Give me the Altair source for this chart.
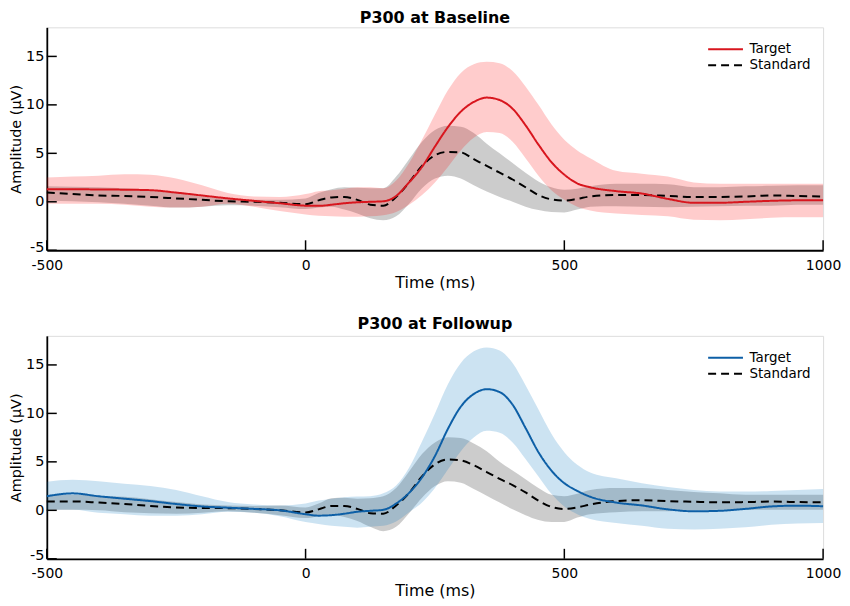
import altair as alt
import pandas as pd

# ---------------- data ----------------
t = [-500, -450, -400, -350, -300, -250, -200, -150, -100, -50, 0, 25, 50, 75, 100,
     125, 150, 175, 200, 225, 250, 275, 300, 325, 350, 375, 400, 425, 450, 475, 500,
     525, 550, 600, 650, 700, 750, 800, 850, 900, 950, 1000]

# Baseline
base_target_mean = [1.3, 1.3, 1.27, 1.25, 1.2, 0.95, 0.65, 0.35, 0.1, -0.15, -0.4, -0.42, -0.3, -0.15, -0.05,
                    0.0, 0.05, 0.6, 2.0, 3.6, 5.7, 7.7, 9.3, 10.3, 10.75, 10.5, 9.6, 7.9, 5.9, 4.1, 2.8,
                    1.9, 1.5, 1.1, 0.85, 0.3, -0.1, -0.1, 0.0, 0.1, 0.15, 0.15]
base_target_hi = [2.5, 2.6, 2.7, 2.85, 2.8, 2.4, 1.7, 0.9, 0.55, 0.5, 0.8, 1.1, 1.2, 1.35, 1.5,
                  1.5, 1.4, 2.2, 4.0, 6.4, 9.0, 11.5, 13.3, 14.2, 14.45, 14.3, 13.5, 11.9, 10.0, 8.0, 6.4,
                  5.3, 4.5, 3.2, 2.9, 2.6, 2.0, 1.85, 1.85, 1.85, 1.85, 1.85]
base_target_lo = [-0.2, -0.2, -0.2, -0.3, -0.5, -0.6, -0.5, -0.2, -0.5, -0.95, -1.3, -1.45, -1.5, -1.55, -1.55,
                  -1.5, -1.4, -1.05, -0.3, 0.7, 2.0, 3.6, 5.3, 6.6, 7.2, 7.1, 6.2, 4.5, 2.7, 1.2, 0.2,
                  -0.5, -0.9, -1.2, -1.35, -1.5, -1.85, -1.9, -1.8, -1.65, -1.6, -1.6]
base_std_mean = [0.95, 0.8, 0.65, 0.6, 0.5, 0.35, 0.2, 0.05, 0.0, -0.1, -0.25, 0.15, 0.45, 0.5, 0.2,
                 -0.3, -0.4, 0.5, 2.0, 3.7, 4.8, 5.15, 5.1, 4.4, 3.7, 3.0, 2.3, 1.5, 0.7, 0.25, 0.12,
                 0.3, 0.55, 0.7, 0.7, 0.6, 0.5, 0.5, 0.55, 0.65, 0.6, 0.55]
base_std_hi = [1.6, 1.55, 1.5, 1.4, 1.2, 0.9, 0.55, 0.3, 0.2, 0.2, 0.35, 0.9, 1.3, 1.5, 1.45,
               1.4, 1.4, 2.6, 4.4, 6.2, 7.4, 7.85, 7.75, 7.1, 6.0, 5.0, 4.0, 3.0, 2.1, 1.5, 1.25,
               1.35, 1.6, 1.85, 1.85, 1.8, 1.5, 1.5, 1.6, 1.65, 1.7, 1.7]
base_std_lo = [0.1, 0.05, -0.05, -0.2, -0.4, -0.6, -0.5, -0.35, -0.4, -0.55, -0.75, -0.6, -0.5, -0.8, -1.2,
               -1.7, -1.9, -1.5, -0.2, 1.4, 2.4, 2.7, 2.4, 1.7, 1.05, 0.5, 0.0, -0.5, -0.85, -1.05, -1.1,
               -0.8, -0.5, -0.45, -0.5, -0.55, -0.5, -0.45, -0.4, -0.4, -0.3, -0.3]

# Followup
fu_target_mean = [1.45, 1.75, 1.45, 1.2, 0.95, 0.65, 0.4, 0.27, 0.15, 0.0, -0.4, -0.55, -0.5, -0.35, -0.15,
                  -0.05, 0.05, 0.7, 1.8, 3.4, 5.6, 8.4, 10.7, 12.0, 12.5, 12.2, 10.9, 8.5, 6.0, 4.1, 2.8,
                  2.0, 1.4, 0.8, 0.5, 0.1, -0.1, -0.05, 0.15, 0.4, 0.48, 0.42]
fu_target_hi = [2.95, 3.15, 3.0, 2.75, 2.5, 2.1, 1.45, 0.85, 0.6, 0.5, 0.7, 1.0, 1.2, 1.35, 1.42,
                1.45, 1.75, 2.55, 4.4, 7.1, 10.0, 13.0, 15.2, 16.4, 16.8, 16.5, 15.2, 12.9, 10.4, 7.9, 6.0,
                4.7, 3.9, 3.3, 2.8, 2.4, 2.1, 1.95, 1.95, 2.0, 2.1, 2.2]
fu_target_lo = [0.05, 0.05, -0.25, -0.4, -0.55, -0.55, -0.4, -0.15, -0.25, -0.6, -1.2, -1.4, -1.6, -1.7, -1.8,
                -1.7, -1.6, -1.15, -0.2, 0.8, 2.3, 4.2, 6.1, 7.5, 8.2, 8.0, 7.0, 5.3, 3.5, 1.7, 0.4,
                -0.4, -0.9, -1.3, -1.6, -1.9, -1.97, -1.9, -1.75, -1.5, -1.35, -1.3]
fu_std_mean = [0.92, 0.92, 0.8, 0.65, 0.45, 0.3, 0.24, 0.22, 0.14, 0.0, -0.22, 0.1, 0.45, 0.45, 0.15,
               -0.3, -0.35, 0.5, 1.8, 3.5, 4.75, 5.25, 5.15, 4.65, 3.95, 3.25, 2.6, 1.85, 1.0, 0.35, 0.14,
               0.3, 0.6, 0.95, 1.05, 0.95, 0.88, 0.82, 0.85, 0.9, 0.85, 0.82]
fu_std_hi = [1.6, 1.6, 1.5, 1.4, 1.15, 0.85, 0.6, 0.5, 0.45, 0.5, 0.3, 0.7, 1.25, 1.3, 1.2,
             1.25, 1.45, 2.3, 4.0, 5.8, 7.0, 7.55, 7.45, 6.9, 6.1, 5.0, 4.1, 3.2, 2.3, 1.6, 1.45,
             1.7, 2.1, 2.3, 2.3, 2.1, 1.9, 1.75, 1.6, 1.6, 1.6, 1.6]
fu_std_lo = [0.05, 0.05, 0.0, -0.2, -0.3, -0.35, -0.25, -0.1, -0.25, -0.5, -0.8, -0.6, -0.45, -0.7, -1.1,
             -1.7, -2.15, -1.7, -0.3, 1.3, 2.5, 3.0, 2.85, 2.2, 1.5, 0.8, 0.1, -0.5, -1.0, -1.2, -1.2,
             -0.75, -0.4, -0.2, -0.1, -0.1, 0.0, 0.07, 0.07, 0.07, 0.07, 0.07]

series_names = ["Target", "Standard"]
x_ticks = [-500, 0, 500, 1000]
y_ticks = [-5, 0, 5, 10, 15]
titles = ["P300 at Baseline", "P300 at Followup"]

# ---------------- styling ----------------
FONT = "DejaVu Sans"
W, H = 780, 224
RED, BLUE = "#d8161e", "#0d5fa6"
RED_FILL, BLUE_FILL = "#ff0000", "#0072bd"
LBL = "'' + datum.value"

xs = alt.Scale(domain=[-500, 1000], nice=False, zero=False)
ys = alt.Scale(domain=[-5, 18], nice=False, zero=False)
x_axis = alt.Axis(values=x_ticks, ticks=False, tickSize=0, grid=False, labelPadding=8, labelExpr=LBL,
                  labelFontSize=14, titleFontSize=16, titlePadding=2, titleFontWeight="normal",
                  domainColor="black", domainWidth=1.8, labelColor="black", titleColor="black",
                  labelFont=FONT, titleFont=FONT, labelFlush=False)
y_axis = alt.Axis(values=y_ticks, ticks=False, tickSize=0, grid=False, labelPadding=3, labelExpr=LBL,
                  labelOffset={"condition": {"test": "datum.value == -5", "value": -3}, "value": 0},
                  labelFontSize=14.5, titleFontSize=14.5, titlePadding=2, titleFontWeight="normal",
                  domainColor="black", domainWidth=1.8, labelColor="black", titleColor="black",
                  labelFont=FONT, titleFont=FONT, labelFlush=False)
XT, YT = "Time (ms)", "Amplitude (μV)"


def panel(title, tm, tlo, thi, sm, slo, shi, line_col, fill_col, title_offset):
    rows = []
    for name, m, lo, hi in (("Target", tm, tlo, thi), ("Standard", sm, slo, shi)):
        for i in range(len(t)):
            rows.append({"t": t[i], "series": name, "mean": m[i], "lo": lo[i], "hi": hi[i]})
    df = pd.DataFrame(rows)
    base = alt.Chart(df)

    leg = alt.Legend(title=None, orient="none", legendX=675, legendY=15,
                     symbolType="M-3,0H3", symbolSize=136, symbolStrokeWidth=2,
                     labelFontSize=13.5, labelFont=FONT, labelColor="black",
                     labelOffset=17, rowPadding=2, padding=0)
    color = alt.Color("series:N", scale=alt.Scale(domain=series_names, range=[line_col, "black"]), legend=leg)
    dash = alt.StrokeDash("series:N", scale=alt.Scale(domain=series_names, range=[[1, 0], [8, 5]]), legend=leg)

    X = alt.X("t:Q", scale=xs, axis=x_axis, title=XT)

    std_band = base.transform_filter(alt.datum.series == "Standard").mark_area(
        interpolate="monotone", color="black", opacity=0.2).encode(
        x=X, y=alt.Y("lo:Q", scale=ys, axis=y_axis, title=YT), y2="hi:Q")
    tgt_band = base.transform_filter(alt.datum.series == "Target").mark_area(
        interpolate="monotone", color=fill_col, opacity=0.2).encode(
        x=X, y=alt.Y("lo:Q", scale=ys, axis=y_axis, title=YT), y2="hi:Q")
    std_line = base.transform_filter(alt.datum.series == "Standard").mark_line(
        interpolate="monotone", strokeWidth=2).encode(
        x=X, y=alt.Y("mean:Q", scale=ys, axis=y_axis, title=YT), color=color, strokeDash=dash)
    tgt_line = base.transform_filter(alt.datum.series == "Target").mark_line(
        interpolate="monotone", strokeWidth=2).encode(
        x=X, y=alt.Y("mean:Q", scale=ys, axis=y_axis, title=YT), color=color, strokeDash=dash)

    ytk = alt.Chart(pd.DataFrame({"v": y_ticks})).mark_rule(color="black", strokeWidth=1.5).encode(
        y=alt.Y("v:Q", scale=ys, axis=y_axis, title=YT), x=alt.value(0), x2=alt.value(10))
    xtk = alt.Chart(pd.DataFrame({"tk": x_ticks})).mark_rule(color="black", strokeWidth=1.5).encode(
        x=alt.X("tk:Q", scale=xs, axis=x_axis, title=XT), y=alt.value(H), y2=alt.value(H - 10))

    return alt.layer(std_band, tgt_band, std_line, tgt_line, ytk, xtk).properties(
        width=W, height=H,
        title=alt.TitleParams(title, fontSize=16, font=FONT, fontWeight="bold", offset=title_offset, color="black"))


top = panel(titles[0], base_target_mean, base_target_lo, base_target_hi,
            base_std_mean, base_std_lo, base_std_hi, RED, RED_FILL, 1)
bot = panel(titles[1], fu_target_mean, fu_target_lo, fu_target_hi,
            fu_std_mean, fu_std_lo, fu_std_hi, BLUE, BLUE_FILL, 4)

chart = alt.vconcat(top, bot, spacing=24).resolve_scale(color="independent", strokeDash="independent").properties(
    padding={"left": 0, "top": 0, "right": 0, "bottom": 0}
).configure_view(stroke=None).configure(background="white")

chart.save("out.html", embed_options={"renderer": "svg", "actions": False})
